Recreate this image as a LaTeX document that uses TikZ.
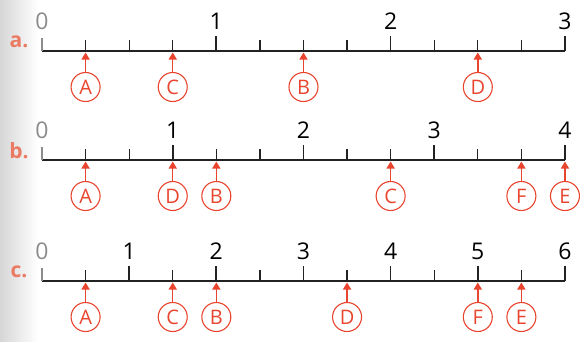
\documentclass[tikz,border=0pt]{standalone}
\usepackage{fontspec}
\setmainfont{Open Sans}
\usetikzlibrary{arrows.meta}

\definecolor{markred}{HTML}{E8442E}
\definecolor{rowred}{HTML}{EB7A63}
\definecolor{zerogrey}{HTML}{8C8C8C}
\definecolor{linegrey}{HTML}{222222}

\tikzset{
  numline/.style={line width=1.8pt, linegrey},
  majortick/.style={line width=1.7pt, linegrey},
  minortick/.style={line width=1.3pt, linegrey},
  letter/.style={circle, draw=markred, line width=1.1pt, text=markred,
    minimum size=29pt, inner sep=0pt, font=\fontsize{20}{20}\selectfont},
  pointer/.style={markred, line width=1.5pt, -{Triangle[length=7pt, width=8pt]}},
  rowname/.style={rowred, font=\fontsize{21}{21}\selectfont\bfseries},
}

\begin{document}
\begin{tikzpicture}[x=1pt, y=-1pt, font=\fontsize{23}{23}\selectfont]
  \useasboundingbox (0,0) rectangle (586,341);

  % scanned page edge
  \shade[left color=black!16, right color=white] (0,0) rectangle (38,341);

  % one row per number line: name/line y/units/parts per unit
  \foreach \row/\ly/\nunits/\nsub in {a/51/3/4, b/160/4/3, c/281/6/2} {
    \coordinate (\row-0) at (42,\ly);
    \coordinate (\row-12) at (565,\ly);
    \node[rowname] (\row-name) at (19,\ly-9) {\row.};
    \draw[numline] (\row-0) -- (\row-12);

    % zero
    \draw[line width=1.6pt, zerogrey] (\row-0) -- ++(0,-13);
    \node[text=zerogrey] (\row-lab0) at (42,\ly-30) {0};

    % ticks
    \foreach \i in {1,...,12} {
      \coordinate (\row-\i) at (42+43.58*\i,\ly);
      \pgfmathtruncatemacro{\rest}{mod(\i,\nsub)}
      \ifnum\rest=0
        \pgfmathtruncatemacro{\num}{\i/\nsub}
        \draw[majortick] (\row-\i) -- ++(0,-15);
        \node (\row-lab\num) at (42+43.58*\i,\ly-30) {\num};
      \else
        \draw[minortick] (\row-\i) -- ++(0,-11);
      \fi
    }
  }

  % points on the lines
  \foreach \row/\pt/\i in {a/A/1, a/C/3, a/B/6, a/D/10,
                           b/A/1, b/D/3, b/B/4, b/C/8, b/F/11, b/E/12,
                           c/A/1, c/C/3, c/B/4, c/D/7, c/F/10, c/E/11} {
    \node[letter] (\row-\pt) at ([yshift=-36pt]\row-\i) {\pt};
    \draw[pointer] (\row-\pt) -- ([yshift=-1.5pt]\row-\i);
  }

\end{tikzpicture}
\end{document}
